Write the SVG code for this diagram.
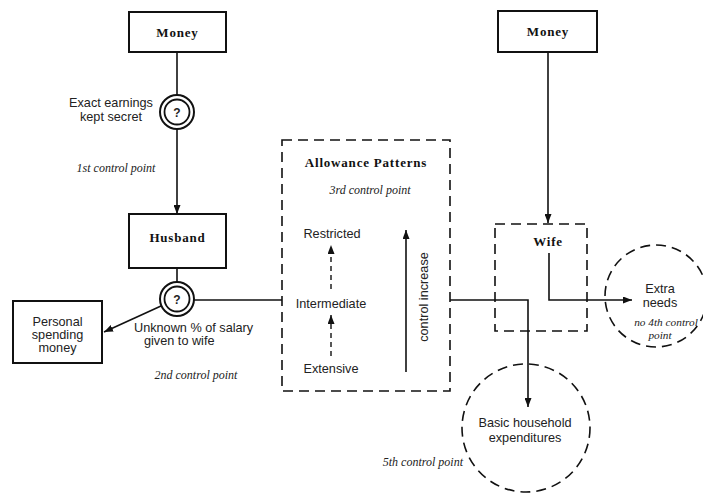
<svg xmlns="http://www.w3.org/2000/svg" width="703" height="494" viewBox="0 0 703 494">
<style>
.box{fill:#fff;stroke:#111;stroke-width:2}
.dbox{fill:none;stroke:#111;stroke-width:1.6;stroke-dasharray:10 6}
.ln{fill:none;stroke:#111;stroke-width:1.6}
.dash{fill:none;stroke:#111;stroke-width:1.4;stroke-dasharray:5 4}
.ring{fill:#fff;stroke:#111;stroke-width:2}
.bt{font-family:"Liberation Serif",serif;font-weight:bold;font-size:13px;letter-spacing:0.8px;fill:#111;text-anchor:middle}
.t{font-family:"Liberation Sans",sans-serif;font-size:12.7px;fill:#222;text-anchor:middle}
.it{font-family:"Liberation Serif",serif;font-style:italic;font-size:12px;fill:#222;text-anchor:middle}
</style>
<defs>
<marker id="ah" markerUnits="userSpaceOnUse" markerWidth="9" markerHeight="7" refX="9" refY="3.5" orient="auto">
<path d="M0,0 L9,3.5 L0,7 z" fill="#111"/>
</marker>
</defs>
<g id="connectors">
<line class="ln" x1="177" y1="52" x2="177" y2="95"/>
<line class="ln" x1="177" y1="129" x2="177" y2="214" marker-end="url(#ah)"/>
<line class="ln" x1="177" y1="268" x2="177" y2="282"/>
<line class="ln" x1="161" y1="306" x2="104" y2="332" marker-end="url(#ah)"/>
<line class="ln" x1="194" y1="300" x2="282" y2="300"/>
<polyline class="ln" points="450,300 528,300 528,407" marker-end="url(#ah)"/>
<line class="ln" x1="548" y1="52" x2="548" y2="223" marker-end="url(#ah)"/>
<polyline class="ln" points="549,253 549,300 632,300" marker-end="url(#ah)"/>
</g>
<g id="money-left">
<rect class="box" x="129" y="12" width="97" height="40"/>
<text class="bt" x="177.5" y="37">Money</text>
</g>
<g id="secret-point">
<circle class="ring" cx="177" cy="112" r="17"/>
<circle class="ln" cx="177" cy="112" r="12.5" style="stroke-width:1.8"/>
<text class="t" x="177" y="117" style="font-weight:bold;font-size:12px">?</text>
<text class="t" x="111" y="107">Exact earnings</text>
<text class="t" x="111" y="121">kept secret</text>
<text class="it" x="116" y="172">1st control point</text>
</g>
<g id="husband">
<rect class="box" x="129" y="214" width="97" height="54"/>
<text class="bt" x="177.5" y="242">Husband</text>
</g>
<g id="salary-point">
<circle class="ring" cx="177" cy="299" r="17"/>
<circle class="ln" cx="177" cy="299" r="12.5" style="stroke-width:1.8"/>
<text class="t" x="177" y="304" style="font-weight:bold;font-size:12px">?</text>
<text class="t" x="134" y="332" style="text-anchor:start">Unknown % of salary</text>
<text class="t" x="144" y="345" style="text-anchor:start">given to wife</text>
<text class="it" x="196" y="379">2nd control point</text>
</g>
<g id="personal">
<rect class="box" x="13" y="301" width="89" height="62"/>
<text class="t" x="57.5" y="326">Personal</text>
<text class="t" x="57.5" y="339">spending</text>
<text class="t" x="57.5" y="352">money</text>
</g>
<g id="allowance">
<rect class="dbox" x="282" y="140" width="168" height="251"/>
<text class="bt" x="366" y="167">Allowance Patterns</text>
<text class="it" x="370" y="194">3rd control point</text>
<text class="t" x="332" y="238">Restricted</text>
<text class="t" x="331" y="308">Intermediate</text>
<text class="t" x="331" y="373">Extensive</text>
<line class="dash" x1="331" y1="289" x2="331" y2="245" marker-end="url(#ah)"/>
<line class="dash" x1="331" y1="356" x2="331" y2="315" marker-end="url(#ah)"/>
<line class="ln" x1="406" y1="372" x2="406" y2="230" marker-end="url(#ah)"/>
<text class="t" transform="translate(428,297) rotate(-90)">control increase</text>
</g>
<g id="money-right">
<rect class="box" x="498" y="11" width="99" height="41"/>
<text class="bt" x="548" y="36">Money</text>
</g>
<g id="wife">
<rect class="dbox" x="495" y="224" width="92" height="107"/>
<text class="bt" x="548" y="246">Wife</text>
</g>
<g id="extra-needs">
<circle class="dbox" cx="656" cy="296" r="51"/>
<text class="t" x="660" y="293">Extra</text>
<text class="t" x="660" y="307">needs</text>
<text class="it" x="666" y="326" style="font-size:11.3px">no 4th control</text>
<text class="it" x="660" y="339" style="font-size:11.3px">point</text>
</g>
<g id="basic-household">
<circle class="dbox" cx="526" cy="428" r="64"/>
<text class="t" x="525" y="427">Basic household</text>
<text class="t" x="525" y="442">expenditures</text>
<text class="it" x="463" y="466" style="text-anchor:end">5th control point</text>
</g>
</svg>
